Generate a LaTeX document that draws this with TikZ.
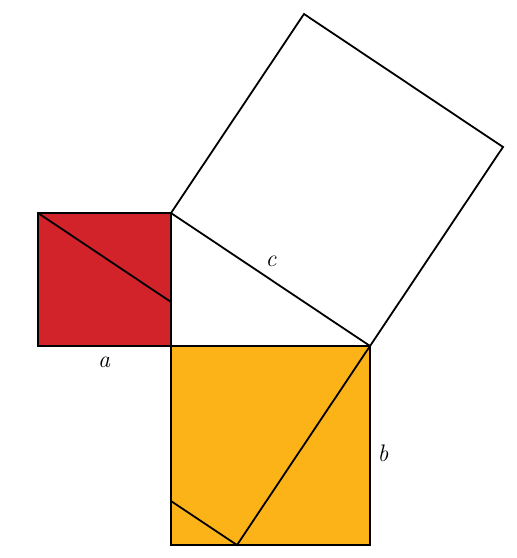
\documentclass[tikz,border=0pt]{standalone}
\usepackage{fontspec}
\begin{document}
\begin{tikzpicture}[x=1bp,y=-1bp,
  edge/.style={draw=black,line width=1.8bp,line join=miter},
  lbl/.style={font=\fontsize{24}{28}\selectfont\itshape,inner sep=0pt}]
\definecolor{sqred}{RGB}{210,35,42}
\definecolor{sqyellow}{RGB}{251,179,24}
\useasboundingbox (0,0) rectangle (517,558);
% triangle vertices
\coordinate (A) at (171,213);
\coordinate (C) at (171,346);
\coordinate (B) at (370,346);
% square on c
\coordinate (P) at (304,14);
\coordinate (Q) at (503,147);
% red square
\coordinate (R1) at (38,213);
\coordinate (R2) at (38,346);
\coordinate (Rd) at (171,302);
% yellow square
\coordinate (Y1) at (171,545);
\coordinate (Y2) at (370,545);
\coordinate (Ym) at (237,545);
\coordinate (Yl) at (171,501);
\path[fill=sqred] (R1) -- (A) -- (C) -- (R2) -- cycle;
\path[fill=sqyellow] (C) -- (B) -- (Y2) -- (Y1) -- cycle;
\draw[edge] (R1) -- (A) -- (C) -- (R2) -- cycle;
\draw[edge] (R1) -- (Rd);
\draw[edge] (C) -- (B) -- (Y2) -- (Y1) -- cycle;
\draw[edge] (B) -- (Ym) -- (Yl);
\draw[edge] (A) -- (B) -- (Q) -- (P) -- cycle;
\node[lbl] (la) at (104,362) {a};
\node[lbl] (lb) at (383,453) {b};
\node[lbl] (lc) at (271,261) {c};
\end{tikzpicture}
\end{document}
